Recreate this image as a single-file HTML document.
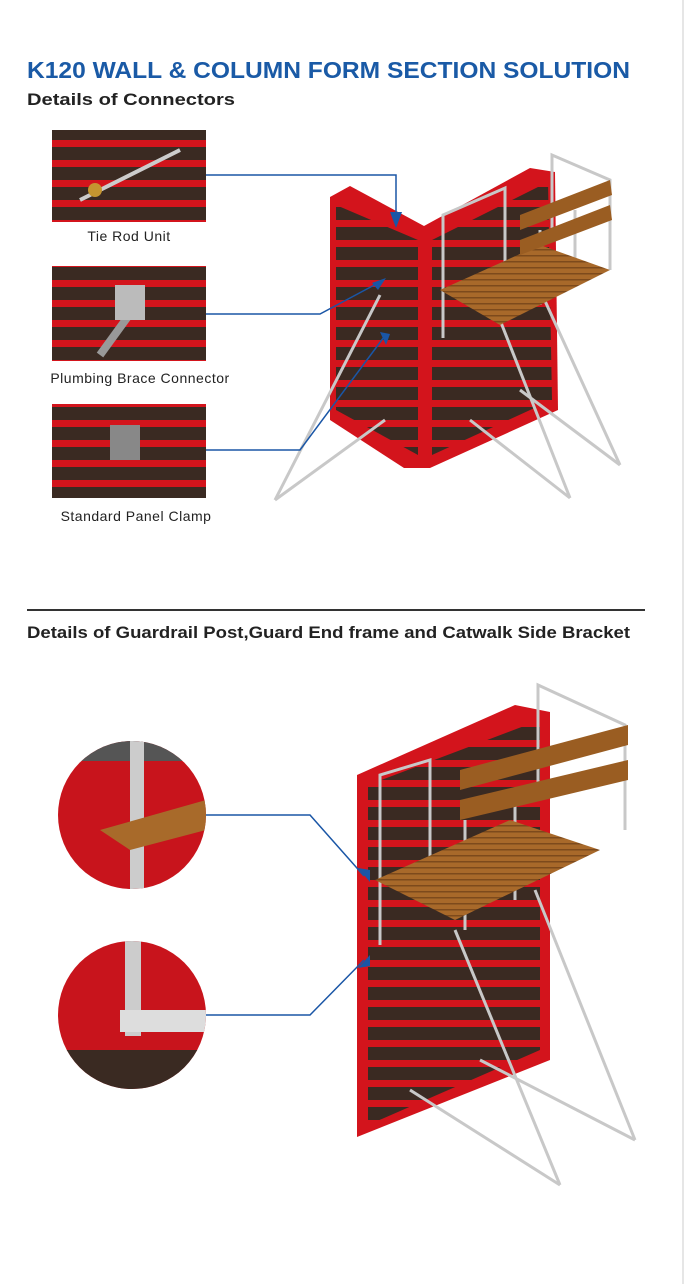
<!DOCTYPE html>
<html><head><meta charset="utf-8"><style>
body{margin:0;background:#fff;width:687px;height:1284px;overflow:hidden;font-family:"Liberation Sans",sans-serif}
svg{display:block}
</style></head><body>
<svg width="687" height="1284" viewBox="0 0 687 1284" xmlns="http://www.w3.org/2000/svg">
<defs>
<pattern id="rp" width="20" height="20" patternUnits="userSpaceOnUse"><rect width="20" height="20" fill="#3a2a22"/><rect y="0" width="20" height="7" fill="#d3141c"/></pattern>
<pattern id="wood" width="10" height="6" patternUnits="userSpaceOnUse"><rect width="10" height="6" fill="#a8692a"/><rect y="3" width="10" height="1.5" fill="#7d4a1c"/></pattern>
<clipPath id="c1"><circle cx="132" cy="815" r="74"/></clipPath>
<clipPath id="c2"><circle cx="132" cy="1015" r="74"/></clipPath>
</defs>
<line x1="683" y1="0" x2="683" y2="1284" stroke="#ccc" stroke-width="1"/>
<text x="27" y="78" font-size="23" font-weight="bold" fill="#1a5aa6" textLength="603" lengthAdjust="spacingAndGlyphs">K120 WALL &amp; COLUMN FORM SECTION SOLUTION</text>
<text x="27" y="105" font-size="17" font-weight="bold" fill="#222" textLength="208" lengthAdjust="spacingAndGlyphs">Details of Connectors</text>

<rect x="52" y="130" width="154" height="92" fill="url(#rp)"/>
<line x1="80" y1="200" x2="180" y2="150" stroke="#ccc" stroke-width="4"/>
<circle cx="95" cy="190" r="7" fill="#c59530"/>
<text x="129" y="241" font-size="14" fill="#222" text-anchor="middle" letter-spacing="0.5">Tie Rod Unit</text>
<rect x="52" y="266" width="154" height="95" fill="url(#rp)"/>
<line x1="100" y1="355" x2="140" y2="300" stroke="#999" stroke-width="8"/>
<rect x="115" y="285" width="30" height="35" fill="#bbb"/>
<text x="140" y="383" font-size="14" fill="#222" text-anchor="middle" letter-spacing="0.5">Plumbing Brace Connector</text>
<rect x="52" y="404" width="154" height="94" fill="url(#rp)"/>
<rect x="110" y="425" width="30" height="35" fill="#888"/>
<text x="136" y="521" font-size="14" fill="#222" text-anchor="middle" letter-spacing="0.5">Standard Panel Clamp</text>

<polygon points="330,197 350,186 424,226 424,468 404,468 330,420" fill="#d3141c"/>
<polygon points="336,205 418,240 418,455 336,410" fill="url(#rp)"/>
<polygon points="424,226 530,168 555,172 558,410 430,468 424,468" fill="#d3141c"/>
<polygon points="432,240 548,182 552,400 432,455" fill="url(#rp)"/>
<g stroke="#c8c8c8" stroke-width="3" fill="none">
<line x1="275" y1="500" x2="380" y2="295"/><line x1="275" y1="500" x2="385" y2="420"/>
<line x1="500" y1="320" x2="570" y2="498"/><line x1="540" y1="290" x2="620" y2="465"/>
<line x1="470" y1="420" x2="570" y2="498"/><line x1="520" y1="390" x2="620" y2="465"/>
<path d="M443,338 V215 L505,188 V310"/><path d="M552,235 V155 L610,180 V270"/>
<line x1="575" y1="210" x2="575" y2="280"/><line x1="540" y1="230" x2="540" y2="305"/>
</g>
<polygon points="440,290 540,245 610,270 500,325" fill="url(#wood)"/>
<polygon points="520,215 610,180 612,195 520,230" fill="#9a5d22"/>
<polygon points="520,240 610,205 612,220 520,255" fill="#9a5d22"/>
<g stroke="#1a56a6" stroke-width="1.5" fill="none">
<polyline points="206,175 396,175 396,222"/>
<polyline points="206,314 320,314 380,282"/>
<polyline points="206,450 300,450 384,337"/>
</g>
<polygon points="390,212 402,212 396,228" fill="#1a56a6"/>
<polygon points="372,283 386,278 378,290" fill="#1a56a6"/>
<polygon points="380,332 390,334 386,345" fill="#1a56a6"/>

<line x1="27" y1="610" x2="645" y2="610" stroke="#333" stroke-width="2"/>
<text x="27" y="638" font-size="16.5" font-weight="bold" fill="#222" textLength="603" lengthAdjust="spacingAndGlyphs">Details of Guardrail Post,Guard End frame and Catwalk Side Bracket</text>

<g clip-path="url(#c1)"><rect x="58" y="741" width="148" height="148" fill="#c8141c"/>
<rect x="58" y="741" width="148" height="20" fill="#555"/>
<rect x="130" y="741" width="14" height="148" fill="#ccc"/>
<polygon points="100,830 206,800 206,830 130,850" fill="#a86a2a"/></g>
<g clip-path="url(#c2)"><rect x="58" y="941" width="148" height="148" fill="#c8141c"/>
<rect x="58" y="1050" width="148" height="39" fill="#3a2a22"/>
<rect x="125" y="941" width="16" height="95" fill="#ccc"/>
<rect x="120" y="1010" width="86" height="22" fill="#ddd"/></g>

<polygon points="357,775 515,705 550,712 550,1060 357,1137" fill="#d3141c"/>
<polygon points="368,785 540,720 540,1050 368,1125" fill="url(#rp)"/>
<g stroke="#c8c8c8" stroke-width="3" fill="none">
<line x1="455" y1="930" x2="560" y2="1185"/><line x1="535" y1="890" x2="635" y2="1140"/>
<line x1="410" y1="1090" x2="560" y2="1185"/><line x1="480" y1="1060" x2="635" y2="1140"/>
<path d="M380,945 V775 L430,760 V900"/><path d="M538,800 V685 L625,725 V830"/>
<line x1="465" y1="820" x2="465" y2="930"/><line x1="515" y1="790" x2="515" y2="900"/>
</g>
<polygon points="375,880 510,820 600,850 455,920" fill="url(#wood)"/>
<polygon points="460,770 628,725 628,745 460,790" fill="#9a5d22"/>
<polygon points="460,800 628,760 628,780 460,820" fill="#9a5d22"/>
<g stroke="#1a56a6" stroke-width="1.5" fill="none">
<polyline points="206,815 310,815 364,876"/>
<polyline points="206,1015 310,1015 364,960"/>
</g>
<polygon points="358,868 370,870 370,882" fill="#1a56a6"/>
<polygon points="358,968 370,955 370,966" fill="#1a56a6"/>
</svg>
</body></html>
